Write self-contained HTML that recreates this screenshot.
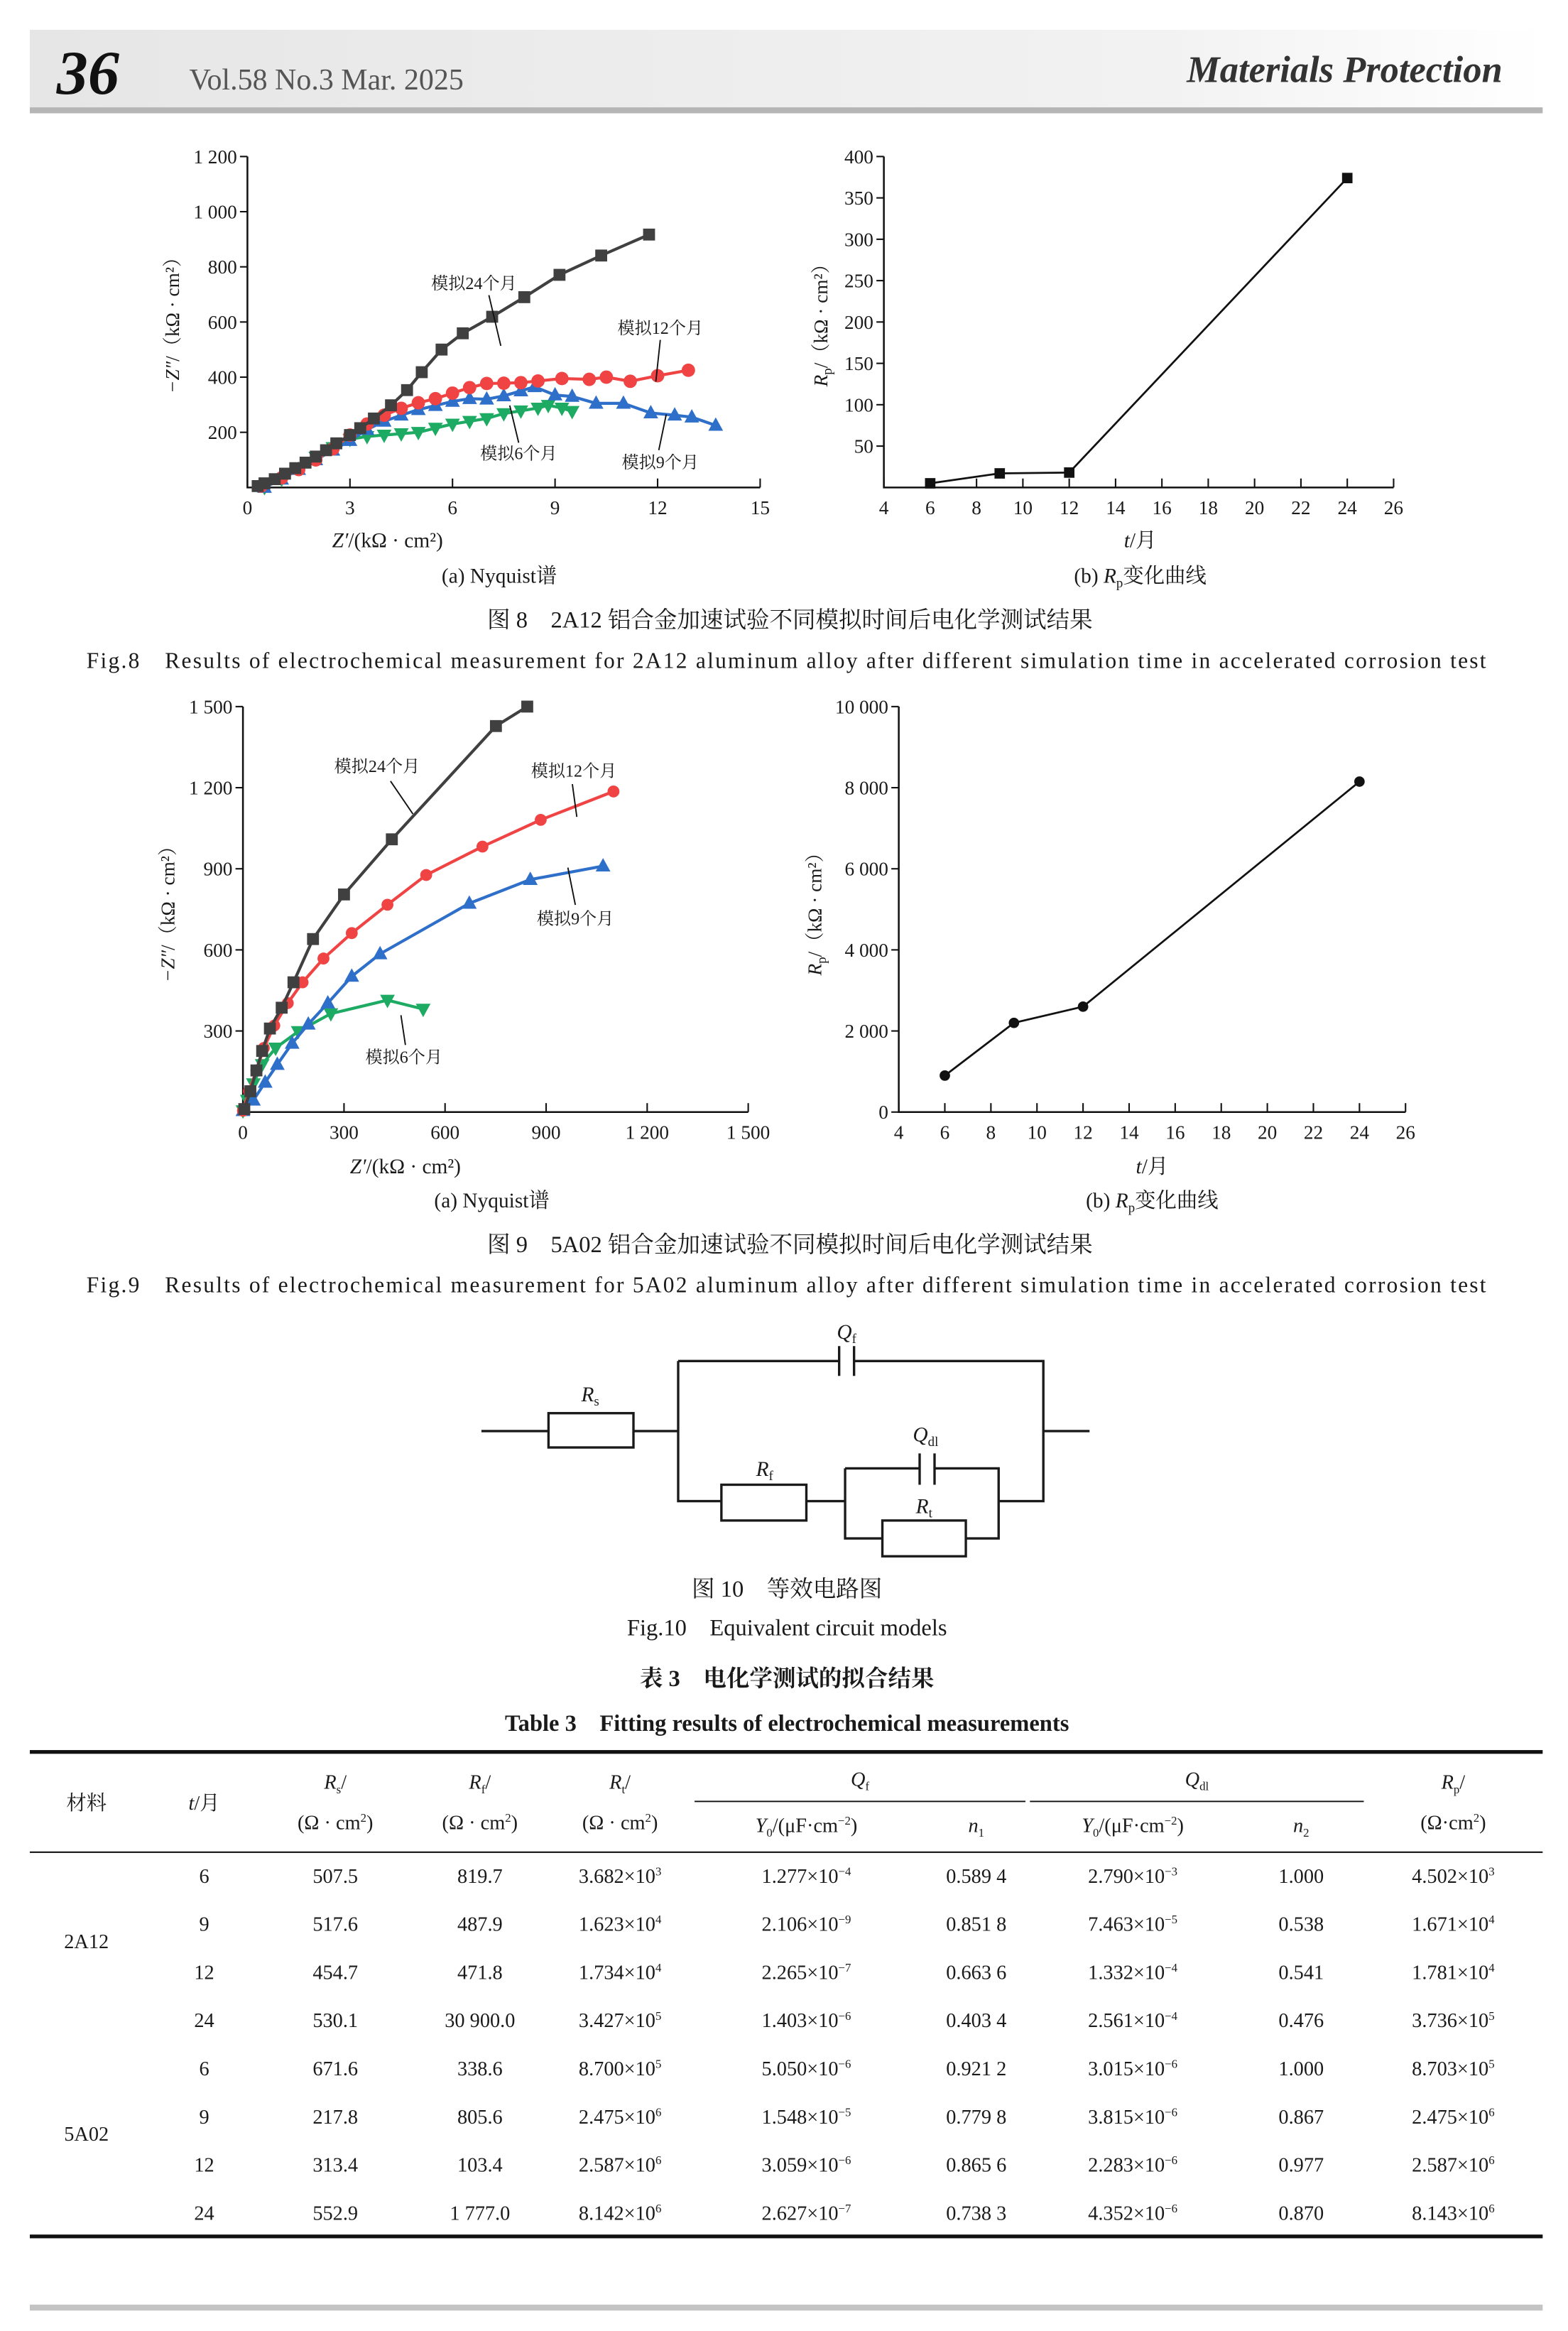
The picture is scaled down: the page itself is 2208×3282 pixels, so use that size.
<!DOCTYPE html>
<html><head><meta charset="utf-8">
<style>
html,body{margin:0;padding:0;background:#fff;}
svg{display:block;}
text{font-family:"Liberation Serif","Noto Serif CJK SC","Noto Sans CJK SC",serif;fill:#1a1a1a;}
.t{font-size:13px;}
.c{font-size:14px;}
.tb{font-size:13.5px;}
.b{font-weight:bold;}
</style></head><body>
<svg id="s" width="2208" height="3282" viewBox="0 0 1052 1563.7" preserveAspectRatio="none" xmlns="http://www.w3.org/2000/svg">
<defs><linearGradient id="hg" x1="0" x2="1"><stop offset="0" stop-color="#e6e6e6"/><stop offset="0.75" stop-color="#f2f2f2"/><stop offset="1" stop-color="#fff"/></linearGradient></defs>
<rect x="20" y="20" width="1015" height="52" fill="url(#hg)"/>
<rect x="20" y="72" width="1015" height="4" fill="#b5b5b5"/>
<text x="38" y="63" style="font-size:42px;font-weight:bold;font-style:italic;fill:#111">36</text>
<text x="127" y="60" style="font-size:20px;fill:#555">Vol.58 No.3 Mar. 2025</text>
<text x="1008" y="55" text-anchor="end" style="font-size:25px;font-style:italic;font-weight:bold;fill:#333">Materials Protection</text>

<g id="g8a"></g><g id="g8b"></g><g id="g9a"></g><g id="g9b"></g>

<!-- Fig 8 captions -->
<text x="260" y="367" text-anchor="middle" class="c"><tspan font-style="italic">Z′</tspan>/(kΩ · cm²)</text>
<text x="335" y="391" text-anchor="middle" class="c">(a) Nyquist谱</text>
<text x="765" y="367" text-anchor="middle" class="c"><tspan font-style="italic">t</tspan>/月</text>
<text x="765" y="391" text-anchor="middle" class="c">(b) <tspan font-style="italic">R</tspan><tspan font-size="9" dy="3">p</tspan><tspan dy="-3">变化曲线</tspan></text>
<text x="530" y="421" text-anchor="middle" style="font-size:15.5px">图 8　2A12 铝合金加速试验不同模拟时间后电化学测试结果</text>
<text x="58" y="448" style="font-size:15px" textLength="939">Fig.8　Results of electrochemical measurement for 2A12 aluminum alloy after different simulation time in accelerated corrosion test</text>

<!-- Fig 9 captions -->
<text x="272" y="787" text-anchor="middle" class="c"><tspan font-style="italic">Z′</tspan>/(kΩ · cm²)</text>
<text x="330" y="810" text-anchor="middle" class="c">(a) Nyquist谱</text>
<text x="773" y="787" text-anchor="middle" class="c"><tspan font-style="italic">t</tspan>/月</text>
<text x="773" y="810" text-anchor="middle" class="c">(b) <tspan font-style="italic">R</tspan><tspan font-size="9" dy="3">p</tspan><tspan dy="-3">变化曲线</tspan></text>
<text x="530" y="840" text-anchor="middle" style="font-size:15.5px">图 9　5A02 铝合金加速试验不同模拟时间后电化学测试结果</text>
<text x="58" y="867" style="font-size:15px" textLength="939">Fig.9　Results of electrochemical measurement for 5A02 aluminum alloy after different simulation time in accelerated corrosion test</text>

<!-- circuit -->
<g stroke="#1a1a1a" stroke-width="1.6" fill="none">
<path d="M323 960H368M425 960H455M455 913V1007H484M541 1007H567M455 913H563M573 913H700V1007H670M700 960H731"/>
<path d="M563 903V923M573 903V923"/>
<rect x="368" y="948" width="57" height="23"/>
<rect x="484" y="996" width="57" height="24"/>
<path d="M567 985V1032H592M648 1032H670V985H627M617 985H567"/>
<path d="M617 975V996M627 975V996"/>
<rect x="592" y="1020" width="56" height="24"/>
</g>
<text x="568" y="898" class="c" font-style="italic" text-anchor="middle">Q<tspan font-size="9" dy="3" font-style="normal">f</tspan></text>
<text x="396" y="940" class="c" font-style="italic" text-anchor="middle">R<tspan font-size="9" dy="3" font-style="normal">s</tspan></text>
<text x="621" y="967" class="c" font-style="italic" text-anchor="middle">Q<tspan font-size="9" dy="3" font-style="normal">dl</tspan></text>
<text x="513" y="990" class="c" font-style="italic" text-anchor="middle">R<tspan font-size="9" dy="3" font-style="normal">f</tspan></text>
<text x="620" y="1015" class="c" font-style="italic" text-anchor="middle">R<tspan font-size="9" dy="3" font-style="normal">t</tspan></text>
<text x="528" y="1071" text-anchor="middle" style="font-size:15.5px">图 10　等效电路图</text>
<text x="528" y="1097" text-anchor="middle" style="font-size:15.5px">Fig.10　Equivalent circuit models</text>
<text x="528" y="1131" text-anchor="middle" class="b" style="font-size:15.5px">表 3　电化学测试的拟合结果</text>
<text x="528" y="1161" text-anchor="middle" class="b" style="font-size:15.5px">Table 3　Fitting results of electrochemical measurements</text>

<!-- table -->
<rect x="20" y="1174" width="1015" height="2.5" fill="#111"/>
<rect x="20" y="1242" width="1015" height="1" fill="#111"/>
<rect x="20" y="1499" width="1015" height="2.5" fill="#111"/>
<rect x="466" y="1208" width="222" height="0.9" fill="#111"/>
<rect x="691" y="1208" width="224" height="0.9" fill="#111"/>
<rect x="20" y="1546" width="1015" height="4" fill="#c4c4c4"/>
<g id="tbl" class="tb"></g>
</svg>
<script>
const NS="http://www.w3.org/2000/svg";
function el(p,tag,a,txt){const e=document.createElementNS(NS,tag);for(const k in a)e.setAttribute(k,a[k]);if(txt!==undefined)e.textContent=txt;p.appendChild(e);return e;}
function axes(g,o){
 // o: x0,y0,x1,y1 (pixel), xmin,xmax,ymin,ymax, xt,yt arrays, labels fn
 el(g,'path',{d:`M${o.x0} ${o.y1}V${o.y0}H${o.x1}`,stroke:'#111','stroke-width':1.2,fill:'none'});
 const X=v=>o.x0+(v-o.xmin)/(o.xmax-o.xmin)*(o.x1-o.x0);
 const Y=v=>o.y0-(v-o.ymin)/(o.ymax-o.ymin)*(o.y0-o.y1);
 o.xt.forEach(v=>{el(g,'line',{x1:X(v),x2:X(v),y1:o.y0,y2:o.y0-6,stroke:'#111','stroke-width':1});
  el(g,'text',{x:X(v),y:o.y0+18,'text-anchor':'middle',class:'t'},o.xf?o.xf(v):v);});
 o.yt.forEach(v=>{el(g,'line',{x1:o.x0,x2:o.x0-5,y1:Y(v),y2:Y(v),stroke:'#111','stroke-width':1});
  el(g,'text',{x:o.x0-7,y:Y(v)+4.5,'text-anchor':'end',class:'t'},o.yf?o.yf(v):v);});
 return [X,Y];
}
function fmt(v){return v>=1000?String(v).replace(/(\d)(\d{3})$/,'$1 $2'):String(v);}
function marker(g,type,x,y,c,s){
 if(type=='sq')el(g,'rect',{x:x-s,y:y-s,width:2*s,height:2*s,fill:c});
 else if(type=='ci')el(g,'circle',{cx:x,cy:y,r:s,fill:c});
 else if(type=='tu')el(g,'path',{d:`M${x} ${y-s*1.2}L${x+s*1.1} ${y+s*0.8}L${x-s*1.1} ${y+s*0.8}Z`,fill:c});
 else el(g,'path',{d:`M${x} ${y+s*1.2}L${x+s*1.1} ${y-s*0.8}L${x-s*1.1} ${y-s*0.8}Z`,fill:c});
}
function series(g,X,Y,pts,type,c,s,w){
 el(g,'polyline',{points:pts.map(p=>X(p[0])+','+Y(p[1])).join(' '),stroke:c,'stroke-width':w||2,fill:'none'});
 pts.forEach(p=>marker(g,type,X(p[0]),Y(p[1]),c,s));
}
function lbl(g,x,y,t,l){el(g,'text',{x:x,y:y,'text-anchor':'middle',style:'font-size:11.5px'},t);
 el(g,'line',{x1:l[0],y1:l[1],x2:l[2],y2:l[3],stroke:'#111','stroke-width':0.9});}
function ytitle(g,x,y,html){const t=el(g,'text',{transform:`translate(${x},${y}) rotate(-90)`,'text-anchor':'middle',class:'t'});t.innerHTML=html;}
const GR='#404040',RD='#f04444',BL='#2e6fc9',GN='#1daa62';
// 8a
let g=document.getElementById('g8a');
let [X,Y]=axes(g,{x0:166,y0:327,x1:510,y1:105,xmin:0,xmax:15,ymin:0,ymax:1200,xt:[0,3,6,9,12,15],yt:[200,400,600,800,1000,1200],yf:fmt});
ytitle(g,120,215,'<tspan font-style="italic">−Z″</tspan>/（kΩ · cm²）');
series(g,X,Y,[[0.5,0],[1,30],[1.5,70],[2,110],[2.5,145],[3,175],[3.5,185],[4,190],[4.5,195],[5,200],[5.5,215],[6,230],[6.5,240],[7,250],[7.5,268],[8,278],[8.5,288],[8.8,298],[9.2,288],[9.5,276]],'td',GN,4.5);
series(g,X,Y,[[0.5,0],[1,30],[1.5,65],[2,100],[2.5,135],[3,170],[3.5,210],[4,240],[4.5,262],[5,282],[5.5,297],[6,312],[6.5,322],[7,320],[7.5,332],[8,350],[8.4,365],[9,335],[9.5,330],[10.2,305],[11,305],[11.8,270],[12.5,262],[13,255],[13.7,225]],'tu',BL,4.5);
series(g,X,Y,[[0.4,5],[1,35],[1.5,65],[2,100],[2.5,140],[3,190],[3.5,230],[4,262],[4.5,287],[5,307],[5.5,322],[6,342],[6.5,362],[7,377],[7.5,378],[8,380],[8.5,386],[9.2,395],[10,392],[10.5,400],[11.2,385],[12,405],[12.9,425]],'ci',RD,4.5);
series(g,X,Y,[[0.3,5],[0.5,15],[0.8,30],[1.1,50],[1.4,70],[1.7,90],[2,112],[2.3,135],[2.6,160],[3,190],[3.3,215],[3.7,250],[4.2,298],[4.67,353],[5.1,418],[5.68,500],[6.3,559],[7.16,619],[8.1,690],[9.13,771],[10.35,841],[11.75,917]],'sq',GR,4);
lbl(g,318,194,'模拟24个月',[328,198,336,232]);
lbl(g,443,224,'模拟12个月',[443,228,440,256]);
lbl(g,348,308,'模拟6个月',[348,297,342,272]);
lbl(g,443,314,'模拟9个月',[442,302,447,278]);
// 8b
g=document.getElementById('g8b');
[X,Y]=axes(g,{x0:593,y0:327,x1:935,y1:105,xmin:4,xmax:26,ymin:0,ymax:400,xt:[4,6,8,10,12,14,16,18,20,22,24,26],yt:[50,100,150,200,250,300,350,400]});
ytitle(g,555,215,'<tspan font-style="italic">R</tspan><tspan font-size="9" dy="3">p</tspan><tspan dy="-3">/（kΩ · cm²）</tspan>');
series(g,X,Y,[[6,5],[9,17],[12,18],[24,374]],'sq','#111',3.5,1.3);
// 9a
g=document.getElementById('g9a');
[X,Y]=axes(g,{x0:163,y0:746,x1:502,y1:474,xmin:0,xmax:1500,ymin:0,ymax:1500,xt:[0,300,600,900,1200,1500],yt:[300,600,900,1200,1500],xf:fmt,yf:fmt});
ytitle(g,117,610,'<tspan font-style="italic">−Z″</tspan>/（kΩ · cm²）');
series(g,X,Y,[[0,5],[13,44],[31,105],[57,176],[97,237],[164,298],[261,364],[429,414],[535,381]],'td',GN,4.5);
series(g,X,Y,[[0,5],[31,44],[66,110],[102,176],[146,254],[194,325],[252,403],[323,502],[407,585],[672,772],[853,860],[1069,910]],'tu',BL,4.5);
series(g,X,Y,[[0,5],[18,77],[40,154],[62,237],[93,320],[133,403],[177,480],[239,568],[323,662],[429,767],[544,877],[711,982],[884,1081],[1100,1186]],'ci',RD,4);
series(g,X,Y,[[4,11],[22,77],[40,154],[57,226],[80,309],[115,386],[150,480],[208,640],[300,805],[442,1009],[751,1428],[844,1500]],'sq',GR,4);
lbl(g,253,518,'模拟24个月',[262,524,277,546]);
lbl(g,385,521,'模拟12个月',[384,526,387,548]);
lbl(g,386,620,'模拟9个月',[386,607,381,582]);
lbl(g,271,713,'模拟6个月',[272,701,269,681]);
// 9b
g=document.getElementById('g9b');
[X,Y]=axes(g,{x0:603,y0:746,x1:943,y1:474,xmin:4,xmax:26,ymin:0,ymax:10000,xt:[4,6,8,10,12,14,16,18,20,22,24,26],yt:[0,2000,4000,6000,8000,10000],yf:fmt});
ytitle(g,551,610,'<tspan font-style="italic">R</tspan><tspan font-size="9" dy="3">p</tspan><tspan dy="-3">/（kΩ · cm²）</tspan>');
series(g,X,Y,[[6,900],[9,2200],[12,2600],[24,8150]],'ci','#111',3.5,1.3);
// table
const T=document.getElementById('tbl');
function tx(x,y,h){const t=el(T,'text',{x:x,y:y,'text-anchor':'middle'});t.innerHTML=h;}
tx(58,1214,'材料');tx(137,1214,'<tspan font-style="italic">t</tspan>/月');
const sub=(v,s)=>`<tspan font-style="italic">${v}</tspan><tspan font-size="8" dy="3">${s}</tspan><tspan dy="-3">/</tspan>`;
tx(225,1200,sub('R','s'));tx(322,1200,sub('R','f'));tx(416,1200,sub('R','t'));tx(975,1200,sub('R','p'));
const unit='(Ω · cm<tspan font-size="8" dy="-5">2</tspan><tspan dy="5">)</tspan>';
tx(225,1227,unit);tx(322,1227,unit);tx(416,1227,unit);tx(975,1227,'(Ω·cm<tspan font-size="8" dy="-5">2</tspan><tspan dy="5">)</tspan>');
tx(577,1198,'<tspan font-style="italic">Q</tspan><tspan font-size="8" dy="3">f</tspan>');
tx(803,1198,'<tspan font-style="italic">Q</tspan><tspan font-size="8" dy="3">dl</tspan>');
const y0u='<tspan font-style="italic">Y</tspan><tspan font-size="8" dy="3">0</tspan><tspan dy="-3">/(μF·cm</tspan><tspan font-size="8" dy="-5">−2</tspan><tspan dy="5">)</tspan>';
tx(541,1229,y0u);tx(760,1229,y0u);
tx(655,1229,'<tspan font-style="italic">n</tspan><tspan font-size="8" dy="3">1</tspan>');
tx(873,1229,'<tspan font-style="italic">n</tspan><tspan font-size="8" dy="3">2</tspan>');
tx(58,1307,'2A12');tx(58,1436,'5A02');
const e=(m,p)=>`${m}×10<tspan font-size="8" dy="-5">${p}</tspan>`;
const rows=[
['6','507.5','819.7',e('3.682','3'),e('1.277','−4'),'0.589 4',e('2.790','−3'),'1.000',e('4.502','3')],
['9','517.6','487.9',e('1.623','4'),e('2.106','−9'),'0.851 8',e('7.463','−5'),'0.538',e('1.671','4')],
['12','454.7','471.8',e('1.734','4'),e('2.265','−7'),'0.663 6',e('1.332','−4'),'0.541',e('1.781','4')],
['24','530.1','30 900.0',e('3.427','5'),e('1.403','−6'),'0.403 4',e('2.561','−4'),'0.476',e('3.736','5')],
['6','671.6','338.6',e('8.700','5'),e('5.050','−6'),'0.921 2',e('3.015','−6'),'1.000',e('8.703','5')],
['9','217.8','805.6',e('2.475','6'),e('1.548','−5'),'0.779 8',e('3.815','−6'),'0.867',e('2.475','6')],
['12','313.4','103.4',e('2.587','6'),e('3.059','−6'),'0.865 6',e('2.283','−6'),'0.977',e('2.587','6')],
['24','552.9','1 777.0',e('8.142','6'),e('2.627','−7'),'0.738 3',e('4.352','−6'),'0.870',e('8.143','6')]];
const cx=[137,225,322,416,541,655,760,873,975];
rows.forEach((r,i)=>{const y=1263+i*32.3;r.forEach((c,j)=>tx(cx[j],y,c));});
</script>
</body></html>
